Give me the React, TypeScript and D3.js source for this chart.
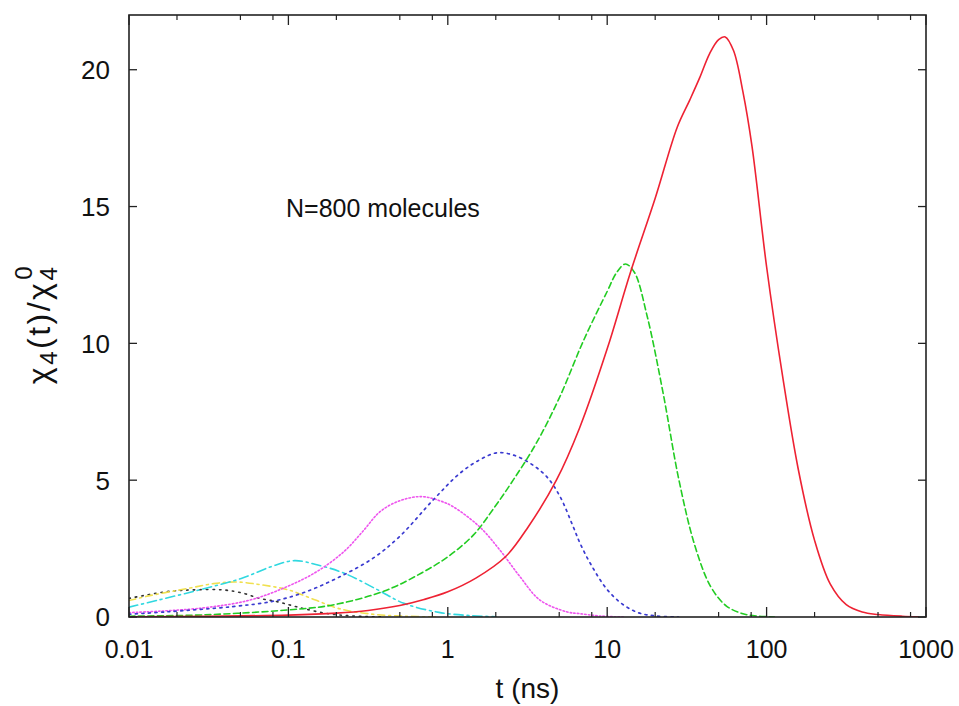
import React from "react";
import * as d3 from "d3";

// ---- data (t in ns, chi4 ratio) ----
const redT = [0.01, 0.03, 0.1, 0.2, 0.316, 0.5, 0.71, 1, 1.5, 2.3, 3.2, 4.8, 6.7, 10, 14, 20, 27.5, 33, 38, 44, 50, 55, 62, 71, 81, 100, 126, 158, 200, 251, 316, 398, 501, 708, 891];
const redV = [0.01, 0.03, 0.07, 0.14, 0.24, 0.42, 0.64, 0.92, 1.42, 2.2, 3.3, 5.0, 6.9, 9.8, 12.6, 15.3, 17.9, 18.9, 19.7, 20.6, 21.1, 21.2, 20.7, 19.2, 17.2, 12.8, 8.8, 5.4, 2.8, 1.2, 0.45, 0.18, 0.09, 0.03, 0.01];

const greenT = [0.01, 0.03, 0.1, 0.19, 0.4, 0.68, 1, 1.45, 1.93, 2.57, 3.55, 5, 7.1, 10, 11.5, 13, 14.8, 17.8, 22.4, 28.2, 35.5, 44.7, 56, 71, 89, 112];
const greenV = [0.03, 0.08, 0.26, 0.44, 0.95, 1.6, 2.2, 3.0, 3.95, 5.0, 6.3, 8.0, 10.1, 11.9, 12.6, 12.9, 12.6, 11.0, 8.2, 5.0, 2.6, 1.1, 0.4, 0.12, 0.03, 0];

const blueT = [0.01, 0.0174, 0.0447, 0.081, 0.13, 0.21, 0.34, 0.5, 0.81, 1.19, 1.58, 2.03, 2.57, 3.28, 4.17, 5.06, 6.12, 6.76, 7.94, 10, 12.6, 15.8, 20, 28];
const blueV = [0.1, 0.19, 0.38, 0.58, 0.93, 1.47, 2.15, 2.95, 4.28, 5.25, 5.74, 6.0, 5.92, 5.62, 5.13, 4.4, 3.3, 2.69, 1.9, 1.0, 0.45, 0.15, 0.04, 0];

const magentaT = [0.01, 0.0279, 0.0575, 0.098, 0.151, 0.224, 0.295, 0.376, 0.5, 0.68, 0.89, 1.08, 1.58, 2.12, 2.84, 3.78, 5.57, 6.76, 8.9, 12.6];
const magentaV = [0.16, 0.32, 0.62, 1.11, 1.66, 2.4, 3.15, 3.85, 4.25, 4.4, 4.25, 4.03, 3.3, 2.45, 1.47, 0.62, 0.19, 0.12, 0.04, 0];

const cyanT = [0.01, 0.0153, 0.0285, 0.0506, 0.078, 0.109, 0.153, 0.224, 0.364, 0.53, 0.88, 1.39, 2.0];
const cyanV = [0.36, 0.62, 1.01, 1.41, 1.84, 2.06, 1.9, 1.6, 0.99, 0.5, 0.17, 0.05, 0.01];

const yellowT = [0.01, 0.0135, 0.0237, 0.034, 0.047, 0.067, 0.1, 0.148, 0.21, 0.34, 0.54, 0.85];
const yellowV = [0.6, 0.78, 1.05, 1.22, 1.28, 1.18, 0.99, 0.62, 0.3, 0.1, 0.03, 0];

const blackT = [0.01, 0.0174, 0.025, 0.039, 0.052, 0.066, 0.085, 0.102, 0.126, 0.178, 0.25, 0.4];
const blackV = [0.68, 0.93, 0.99, 0.99, 0.87, 0.68, 0.56, 0.44, 0.3, 0.12, 0.04, 0];

const xTickValues = [0.01, 0.1, 1, 10, 100, 1000];
const xTickLabels = ["0.01", "0.1", "1", "10", "100", "1000"];
const xMinorFactors = [2, 5, 8];
const yTickValues = [0, 5, 10, 15, 20];
const annotation = "N=800 molecules";
const xTitle = "t (ns)";

type Series = { t: number[]; v: number[]; color: string; dash: string; width: number };

const series: Series[] = [
  { t: blackT, v: blackV, color: "#333333", dash: "1.5,5", width: 1.6 },
  { t: yellowT, v: yellowV, color: "#f0e050", dash: "7,4,2,4", width: 1.6 },
  { t: cyanT, v: cyanV, color: "#30d8e0", dash: "9,4,2,4", width: 1.6 },
  { t: magentaT, v: magentaV, color: "#ee55ee", dash: "1.5,2.2", width: 1.6 },
  { t: blueT, v: blueV, color: "#3a3ad0", dash: "2,4.5", width: 1.7 },
  { t: greenT, v: greenV, color: "#22cc22", dash: "6,3.5", width: 1.6 },
  { t: redT, v: redV, color: "#ee2233", dash: "", width: 1.6 },
];

export default function App() {
  const W = 959, H = 706;
  const L = 129, R = 926, T = 15, B = 617;
  const x = d3.scaleLog().domain([0.01, 1000]).range([L, R]);
  const y = d3.scaleLinear().domain([0, 22]).range([B, T]);
  const line = d3
    .line<[number, number]>()
    .x((d) => x(d[0]))
    .y((d) => y(d[1]))
    .curve(d3.curveCatmullRom.alpha(0.5));

  const minorTicks: number[] = [];
  for (let i = 0; i < xTickValues.length - 1; i++) {
    for (const f of xMinorFactors) minorTicks.push(xTickValues[i] * f);
  }
  const font = "'Liberation Sans', Arial, Helvetica, sans-serif";
  const axisColor = "#222";

  return (
    <svg width={W} height={H} style={{ position: "absolute", left: 0, top: 0, background: "#fff" }} fontFamily={font}>
      <rect x={0} y={0} width={W} height={H} fill="#fff" />
      <defs>
        <clipPath id="plotclip">
          <rect x={L} y={T} width={R - L} height={B - T} />
        </clipPath>
      </defs>
      <g clipPath="url(#plotclip)">
        {series.map((s, i) => (
          <path
            key={i}
            d={line(s.t.map((t, j) => [t, s.v[j]] as [number, number])) || ""}
            fill="none"
            stroke={s.color}
            strokeWidth={s.width}
            strokeDasharray={s.dash || undefined}
            strokeLinecap="round"
          />
        ))}
      </g>
      {xTickValues.map((v) => (
        <g key={"xt" + v}>
          <line x1={x(v)} x2={x(v)} y1={B} y2={B - 10} stroke={axisColor} strokeWidth={1.3} />
          <line x1={x(v)} x2={x(v)} y1={T} y2={T + 10} stroke={axisColor} strokeWidth={1.3} />
        </g>
      ))}
      {minorTicks.map((v) => (
        <g key={"xm" + v}>
          <line x1={x(v)} x2={x(v)} y1={B} y2={B - 5} stroke={axisColor} strokeWidth={1.2} />
          <line x1={x(v)} x2={x(v)} y1={T} y2={T + 5} stroke={axisColor} strokeWidth={1.2} />
        </g>
      ))}
      {yTickValues.map((v) => (
        <g key={"yt" + v}>
          <line x1={L} x2={L + 8} y1={y(v)} y2={y(v)} stroke={axisColor} strokeWidth={1.3} />
          <line x1={R} x2={R - 8} y1={y(v)} y2={y(v)} stroke={axisColor} strokeWidth={1.3} />
        </g>
      ))}
      <rect x={L} y={T} width={R - L} height={B - T} fill="none" stroke={axisColor} strokeWidth={1.6} />
      {xTickValues.map((v, i) => (
        <text key={"xl" + v} x={x(v)} y={658} textAnchor="middle" fontSize={25} fill="#111">
          {xTickLabels[i]}
        </text>
      ))}
      {yTickValues.map((v) => (
        <text key={"yl" + v} x={110} y={y(v)} dy="0.36em" textAnchor="end" fontSize={26} fill="#111">
          {v}
        </text>
      ))}
      <text x={(L + R) / 2} y={698} textAnchor="middle" fontSize={28} fill="#111">
        {xTitle}
      </text>
      <text x={286} y={217} fontSize={25} fill="#111">
        {annotation}
      </text>
      <text
        transform={`translate(50, ${(T + B) / 2 + 8}) rotate(-90)`}
        textAnchor="middle"
        fontSize={32}
        letterSpacing={2.5}
        fill="#111"
      >
        <tspan>χ</tspan>
        <tspan fontSize={24} dy={7}>4</tspan>
        <tspan dy={-7}>(t)/χ</tspan>
        <tspan fontSize={24} dy={7}>4</tspan>
        <tspan fontSize={24} dx={-15} dy={-25}>0</tspan>
      </text>
    </svg>
  );
}
